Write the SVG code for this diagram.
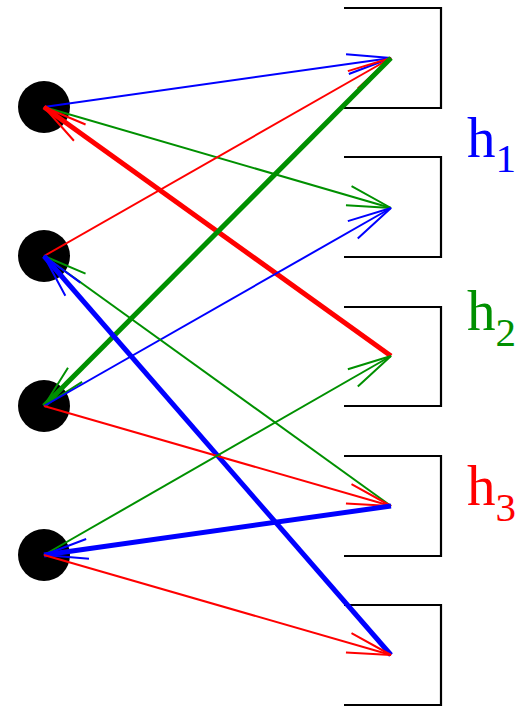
<svg xmlns="http://www.w3.org/2000/svg" width="522" height="707" viewBox="0 0 522 707">
<style>
.br{fill:none;stroke:#000;stroke-width:2.2}
.dot{fill:#000}
.t{stroke-width:2;fill:none}
.k{stroke-width:5;fill:none}
.b{stroke:#0000ff}
.g{stroke:#009000}
.r{stroke:#ff0000}
.lbl{font-family:"Liberation Serif",serif;font-size:57px}
.sub{font-size:41px}
</style>
<defs>
<marker id="mb" markerUnits="userSpaceOnUse" orient="auto" overflow="visible" markerWidth="1" markerHeight="1" refX="0" refY="0"><path d="M-44,-10 L0,0 L-44,10" fill="none" stroke="#0000ff" stroke-width="2"/></marker>
<marker id="mg" markerUnits="userSpaceOnUse" orient="auto" overflow="visible" markerWidth="1" markerHeight="1" refX="0" refY="0"><path d="M-44,-10 L0,0 L-44,10" fill="none" stroke="#009000" stroke-width="2"/></marker>
<marker id="mr" markerUnits="userSpaceOnUse" orient="auto" overflow="visible" markerWidth="1" markerHeight="1" refX="0" refY="0"><path d="M-44,-10 L0,0 L-44,10" fill="none" stroke="#ff0000" stroke-width="2"/></marker>
</defs>
<g id="left-nodes">
<circle id="x1" class="dot" cx="44" cy="107" r="26"/>
<circle id="x2" class="dot" cx="44" cy="256" r="26"/>
<circle id="x3" class="dot" cx="44" cy="406" r="26"/>
<circle id="x4" class="dot" cx="44" cy="555" r="26"/>
</g>
<g id="right-nodes">
<path id="y1" class="br" d="M344,8 H441 V108 H344"/>
<path id="y2" class="br" d="M344,157 H441 V257 H344"/>
<path id="y3" class="br" d="M344,307 H441 V406 H344"/>
<path id="y4" class="br" d="M344,456 H441 V556 H344"/>
<path id="y5" class="br" d="M344,605 H441 V705 H344"/>
</g>
<g id="connectors">
<line class="t b" x1="44" y1="107" x2="391" y2="58" marker-end="url(#mb)"/>
<line class="t g" x1="44" y1="107" x2="391" y2="208" marker-end="url(#mg)"/>
<line class="t r" x1="44" y1="256" x2="391" y2="58" marker-end="url(#mr)"/>
<line class="k r" x1="391" y1="356" x2="44" y2="107" marker-end="url(#mr)"/>
<line class="k g" x1="391" y1="58" x2="44" y2="406" marker-end="url(#mg)"/>
<line class="t b" x1="44" y1="406" x2="391" y2="208" marker-end="url(#mb)"/>
<line class="t g" x1="391" y1="506" x2="44" y2="256" marker-end="url(#mg)"/>
<line class="k b" x1="391" y1="655" x2="44" y2="256" marker-end="url(#mb)"/>
<line class="t r" x1="44" y1="406" x2="391" y2="506" marker-end="url(#mr)"/>
<line class="t g" x1="44" y1="555" x2="391" y2="356" marker-end="url(#mg)"/>
<line class="k b" x1="391" y1="506" x2="44" y2="555" marker-end="url(#mb)"/>
<line class="t r" x1="44" y1="555" x2="391" y2="655" marker-end="url(#mr)"/>
</g>
<g id="labels">
<text class="lbl" x="467" y="157" fill="#0000ff">h<tspan class="sub" dy="15">1</tspan></text>
<text class="lbl" x="467" y="330" fill="#009000">h<tspan class="sub" dy="16">2</tspan></text>
<text class="lbl" x="467" y="505" fill="#ff0000">h<tspan class="sub" dy="16">3</tspan></text>
</g>
</svg>
